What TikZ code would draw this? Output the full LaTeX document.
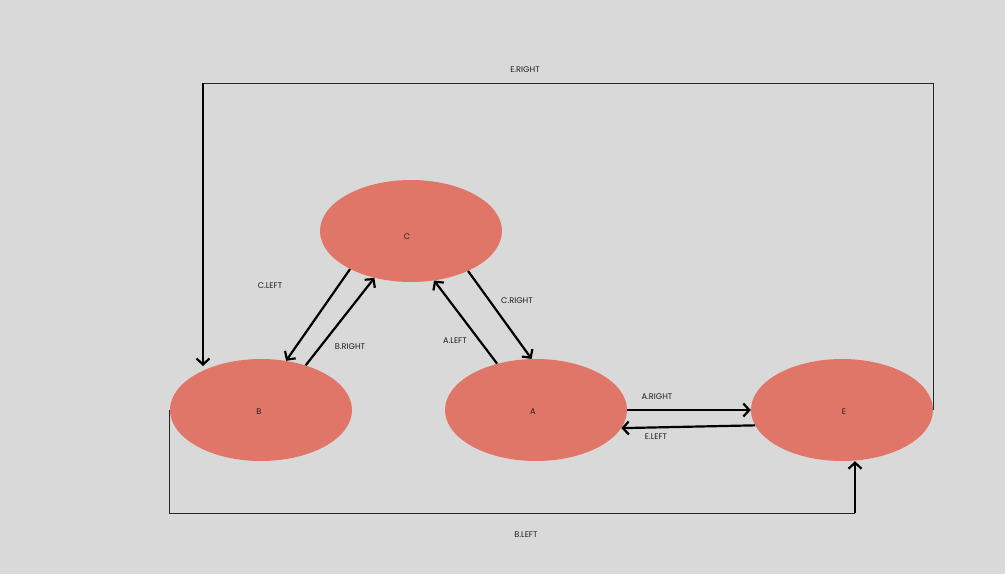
\documentclass[tikz,border=0pt]{standalone}
\usepackage{fontspec}
\setmainfont{Poppins}
\usetikzlibrary{shapes.geometric,arrows.meta}
\definecolor{bgc}{RGB}{217,217,217}
\definecolor{ellc}{RGB}{224,118,104}
\definecolor{txtc}{RGB}{30,30,30}
\tikzset{
  state/.style={ellipse,fill=ellc,minimum width=182pt,minimum height=102pt,inner sep=0pt},
  lbl/.style={font=\fontsize{8.2}{9}\selectfont,text=txtc,inner sep=0pt},
  thinline/.style={draw=black!85,line width=0.9pt},
  arr/.style={draw=black,line width=2.2pt,-{Straight Barb[length=6pt,width=13pt,line width=2.2pt]}}
}
\begin{document}
\begin{tikzpicture}[x=1pt,y=-1pt]
\fill[bgc] (0,0) rectangle (1005,574);
\useasboundingbox (0,0) rectangle (1005,574);
\node[state,label={[lbl,xshift=-4pt,yshift=-6pt]center:C}] (C) at (411,231) {};
\node[state,label={[lbl,xshift=-2pt,yshift=-2pt]center:B}] (B) at (261,410) {};
\node[state,label={[lbl,xshift=-3pt,yshift=-2pt]center:A}] (A) at (536,410) {};
\node[state,label={[lbl,xshift=2pt,yshift=-2pt]center:E}] (E) at (842,410) {};
% E.RIGHT
\coordinate (er) at (203,83);
\coordinate (bt) at (203,366);
\draw[thinline] (E.east) |- (er);
\draw[arr] (er) -- (bt);
\node[lbl] (lER) at (525,70) {E.RIGHT};
% B.LEFT
\coordinate (bl) at (855,513);
\draw[thinline] (B.west) |- (bl);
\draw[arr] (bl) -- (bl |- E.south);
\node[lbl] (lBL) at (526,535) {B.LEFT};
% C.LEFT
\draw[arr] (C.212.2) -- (B.63.9);
\node[lbl] (lCL) at (270,286) {C.LEFT};
% B.RIGHT
\draw[arr] (B.45.6) -- (C.232.9);
\node[lbl] (lBR) at (350,347) {B.RIGHT};
% C.RIGHT
\draw[arr] (C.325.6) -- (A.95.6);
\node[lbl] (lCR) at (517,301) {C.RIGHT};
% A.LEFT
\draw[arr] (A.130) -- (C.295.2);
\node[lbl] (lAL) at (455,341) {A.LEFT};
% A.RIGHT
\draw[arr] (A.east) -- (E.west);
\node[lbl] (lAR) at (657,397) {A.RIGHT};
% E.LEFT
\draw[arr] (E.190.5) -- (A.348.2);
\node[lbl] (lEL) at (656,437) {E.LEFT};
\end{tikzpicture}
\end{document}
